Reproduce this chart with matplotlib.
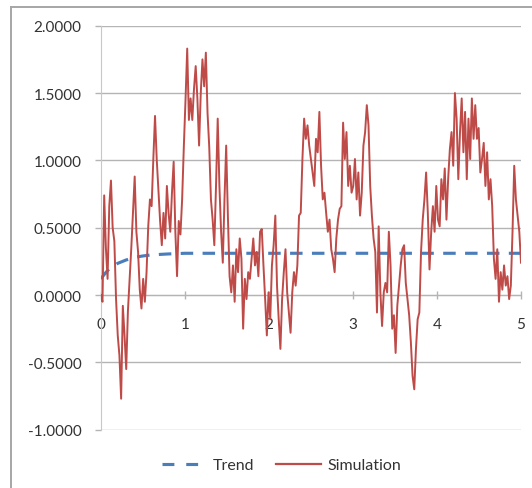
import numpy as np
import matplotlib
matplotlib.use("Agg")
import matplotlib.pyplot as plt
from matplotlib.lines import Line2D
from matplotlib.ticker import FuncFormatter

plt.rcParams['font.family'] = ['Lato', 'DejaVu Sans']

# simulated path, evenly spaced over t = 0..5
sim = [
    0.0, -0.05, 0.74, 0.35, 0.12, 0.66, 0.85, 0.5, 0.4, -0.03,
    -0.3, -0.45, -0.77, -0.08, -0.3, -0.55, -0.12, 0.12, 0.35, 0.62,
    0.88,
    0.47, 0.32, 0.04, -0.1, 0.12, -0.05, 0.17, 0.51, 0.71, 0.66,
    1.01, 1.33, 1.01, 0.78, 0.55, 0.37, 0.61, 0.42, 0.81, 0.61,
    0.47, 0.76, 0.99, 0.47, 0.14, 0.55, 0.45, 0.71, 1.1, 1.45,
    1.83, 1.3, 1.46, 1.3, 1.53, 1.7, 1.46, 1.11, 1.5, 1.75,
    1.55, 1.80, 1.35, 1.1, 0.71, 0.56,
    0.37, 0.81, 1.31, 0.81, 0.47, 0.24, 0.71, 1.11, 0.59, 0.14,
    0.02, 0.22, -0.05, 0.34, 0.17, 0.42, 0.27, -0.25, 0.12, -0.03,
    0.17, 0.12, 0.27, 0.42, 0.22, 0.32, 0.14, 0.47, 0.49, 0.22,
    -0.03, -0.30, 0.02, -0.18, 0.22, 0.37, 0.59, 0.07, -0.18, -0.40,
    -0.03, 0.17, 0.34, 0.02, -0.13, -0.28, 0.02, 0.17, 0.07, 0.22,
    0.59, 0.61, 1.01, 1.31, 1.16, 1.26, 1.11, 1.01, 0.91, 0.81,
    1.16, 1.06, 1.36, 0.96, 0.71, 0.76, 0.61, 0.47, 0.56, 0.34,
    0.27, 0.17, 0.42, 0.56, 0.64, 0.66, 1.28, 1.01, 1.21, 0.81,
    0.96, 0.76, 0.81, 1.01, 0.71, 0.91, 0.59, 0.76, 1.11, 1.21,
    1.41, 1.26, 0.81, 0.59, 0.42, 0.32, -0.13, 0.51, 0.02, -0.23,
    0.02, 0.09, 0.02, 0.47, 0.22, -0.25, -0.15, -0.43, -0.08, 0.07,
    0.22, 0.34, 0.37, 0.09, -0.03, -0.15, -0.35, -0.60, -0.70, -0.40,
    -0.18, -0.13, 0.32, 0.56, 0.71, 0.91, 0.61, 0.19, 0.47, 0.66,
    0.47, 0.81, 0.56, 0.51, 0.86, 0.71, 0.94, 0.56, 0.86, 1.08,
    1.21, 0.96, 1.50, 1.31, 0.86, 1.21, 1.46, 1.06, 1.36, 0.86,
    1.31, 1.01, 1.46, 1.16, 1.41, 1.16, 1.24, 0.91, 1.01, 1.13,
    0.81, 1.06, 0.71, 0.86, 0.66, 0.27, 0.12, 0.34, -0.05, 0.17,
    0.04, 0.22, 0.07, 0.14, -0.03, 0.07, 0.47, 0.96, 0.71, 0.59,
    0.47, 0.24,
]
sim_t = np.linspace(0, 5, len(sim))

trend_t = [0, 0.05, 0.1, 0.2, 0.3, 0.4, 0.5, 0.6, 0.8, 1.0, 2.0, 3.0, 4.0, 5.0]
trend = [0.12, 0.16, 0.195, 0.235, 0.26, 0.28, 0.29, 0.298, 0.305, 0.31,
         0.31, 0.31, 0.31, 0.31]

yticks = [-1.0, -0.5, 0.0, 0.5, 1.0, 1.5, 2.0]
xticks = [0, 1, 2, 3, 4, 5]

W, H = 532, 489
fig = plt.figure(figsize=(W / 100, H / 100), dpi=100)
ax = fig.add_axes([100.8 / W, 1 - 430.7 / H, (521 - 100.8) / W, (430.7 - 26.7) / H])

grey = '#b4b4b4'
txt = '#333333'

ax.plot(trend_t, trend, color='#4a7ebb', lw=2.25, dashes=(4, 3), zorder=3)
ax.plot(sim_t, sim, color='#be4b48', lw=1.4, zorder=4)

ax.set_xlim(0, 5)
ax.set_ylim(-1, 2)
ax.set_yticks(yticks)
ax.set_xticks(xticks)
ax.yaxis.set_major_formatter(FuncFormatter(lambda v, p: '{:.4f}'.format(v)))
ax.yaxis.grid(True, color=grey, lw=1.0)
ax.set_axisbelow(True)

for s in ['top', 'right']:
    ax.spines[s].set_visible(False)
ax.spines['left'].set_color('#c8c8c8')
ax.spines['bottom'].set_position(('data', 0))
ax.spines['bottom'].set_color(grey)

ax.tick_params(axis='y', length=4, width=1, color=grey, pad=10,
               labelsize=11, labelcolor=txt)
ax.tick_params(axis='x', direction='inout', length=6, width=1, color=grey,
               pad=13, labelsize=11, labelcolor=txt)

# chart area border
fig.add_artist(Line2D([11.2 / W, 11.2 / W], [0, 1 - 8 / H], color='#a6a6a6', lw=1.4))
fig.add_artist(Line2D([11.2 / W, 1], [1 - 8 / H, 1 - 8 / H], color='#a6a6a6', lw=1.4))

handles = [Line2D([], [], color='#4a7ebb', lw=2.25, dashes=(3.8, 3.8)),
           Line2D([], [], color='#be4b48', lw=1.6)]
fig.legend(handles, ['Trend', 'Simulation'], loc='center',
           bbox_to_anchor=(0.529, 0.047), ncol=2, frameon=False,
           handlelength=2.8, handletextpad=0.4, columnspacing=1.4,
           prop={'size': 11.5}, labelcolor=txt)

fig.savefig('out.png', dpi=100)
